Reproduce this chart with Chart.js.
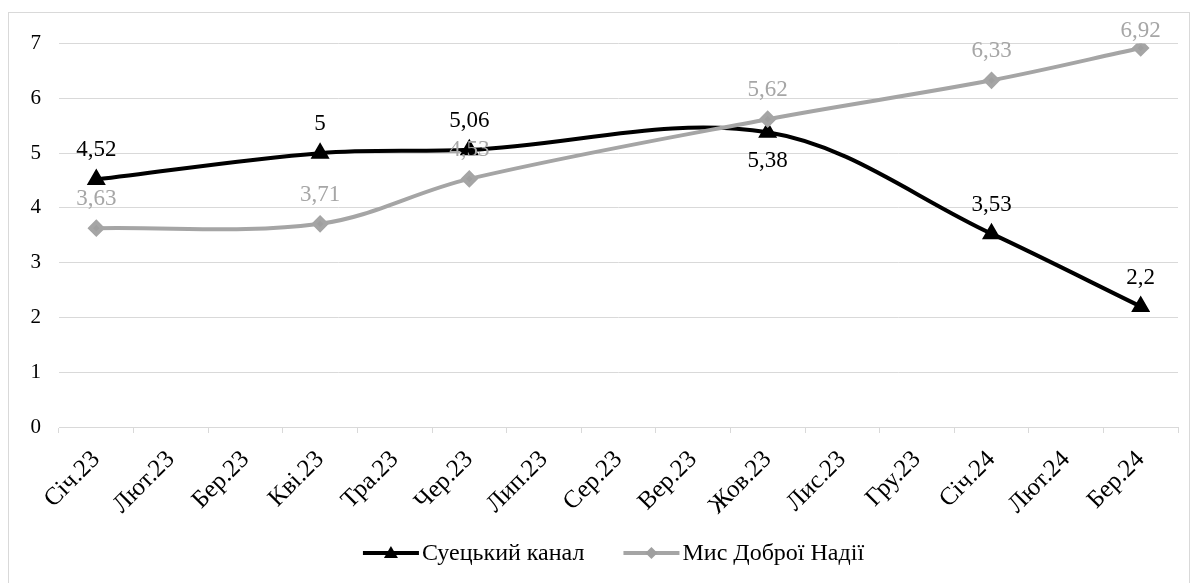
<!DOCTYPE html>
<html>
<head>
<meta charset="utf-8">
<script src="https://cdn.jsdelivr.net/npm/chart.js@4.4.1/dist/chart.umd.min.js"></script>
<style>
  body { margin: 0; background: #fff; }
  #box { position: absolute; left: 8px; top: 12px; width: 1182px; height: 575px;
         border: 1px solid #d9d9d9; box-sizing: border-box; }
</style>
</head>
<body>
<div id="box"><canvas id="chart" width="1180" height="573"></canvas></div>
<script>
// Дані графіка
const months = ['Січ.23', 'Лют.23', 'Бер.23', 'Кві.23', 'Тра.23', 'Чер.23', 'Лип.23', 'Сер.23',
  'Вер.23', 'Жов.23', 'Лис.23', 'Гру.23', 'Січ.24', 'Лют.24', 'Бер.24'];
const suez = [4.52, null, null, 5, null, 5.06, null, null, null, 5.38, null, null, 3.53, null, 2.2];
const cape = [3.63, null, null, 3.71, null, 4.53, null, null, null, 5.62, null, null, 6.33, null, 6.92];
const yTicks = [0, 1, 2, 3, 4, 5, 6, 7];

const FONT = '"Liberation Serif", "Times New Roman", serif';
const GREY = '#a5a5a5';

// Маркер: трикутник або ромб
function marker(ctx, style, x, y) {
  ctx.beginPath();
  if (style === 'triangle') {
    ctx.moveTo(x, y - 7); ctx.lineTo(x + 7, y + 5); ctx.lineTo(x - 7, y + 5);
  } else {
    ctx.moveTo(x, y - 6); ctx.lineTo(x + 6, y); ctx.lineTo(x, y + 6); ctx.lineTo(x - 6, y);
  }
  ctx.closePath(); ctx.fill();
}

// Підписи значень біля точок + легенда внизу
const valueLabels = {
  id: 'valueLabels',
  afterDatasetsDraw(chart, args, opts) {
    const ctx = chart.ctx;
    const top = chart.chartArea.top;
    ctx.save();
    ctx.font = '23px ' + FONT;
    ctx.textAlign = 'center';
    ctx.textBaseline = 'middle';
    chart.data.datasets.forEach((ds, i) => {
      const meta = chart.getDatasetMeta(i);
      meta.data.forEach((pt, j) => {
        const v = ds.data[j];
        if (v == null) return;
        const below = (opts.below[i] || []).includes(j);
        let y = pt.y + (below ? 29 : -29);
        if (y < top - 13) y = top - 13;
        ctx.fillStyle = ds.labelColor;
        ctx.fillText(String(v).replace('.', ','), pt.x, y);
      });
    });
    ctx.restore();
  },
  afterDraw(chart, args, opts) {
    const ctx = chart.ctx;
    const area = chart.chartArea;
    ctx.save();
    ctx.font = '24px ' + FONT;
    ctx.textBaseline = 'middle';
    const items = chart.data.datasets.map(ds => ({ ds, w: ctx.measureText(ds.label).width }));
    const lineW = 56, gap = 3, itemGap = 39;
    const total = items.reduce((s, it) => s + lineW + gap + it.w, 0) + itemGap * (items.length - 1);
    let x = (area.left + area.right) / 2 - 5 - total / 2;
    const y = opts.legendY;
    items.forEach(({ ds, w }) => {
      ctx.strokeStyle = ds.borderColor;
      ctx.fillStyle = ds.backgroundColor;
      ctx.lineWidth = 4;
      ctx.beginPath(); ctx.moveTo(x, y); ctx.lineTo(x + lineW, y); ctx.stroke();
      marker(ctx, ds.pointStyle, x + lineW / 2, y);
      ctx.fillStyle = '#000';
      ctx.fillText(ds.label, x + lineW + gap, y + 1);
      x += lineW + gap + w + itemGap;
    });
    ctx.restore();
  }
};

new Chart(document.getElementById('chart'), {
  type: 'line',
  data: {
    labels: months,
    datasets: [{
      label: 'Суецький канал',
      data: suez,
      borderColor: '#000',
      backgroundColor: '#000',
      labelColor: '#000',
      borderWidth: 4,
      pointStyle: 'triangle',
      pointRadius: 7,
      pointHoverRadius: 7,
      tension: 0.35,
      spanGaps: true,
      order: 1
    }, {
      label: 'Мис Доброї Надії',
      data: cape,
      borderColor: GREY,
      backgroundColor: '#9f9f9f',
      labelColor: '#a6a6a6',
      borderWidth: 4,
      pointStyle: 'rectRot',
      pointRadius: 6,
      pointHoverRadius: 6,
      tension: 0.35,
      spanGaps: true,
      order: 0
    }]
  },
  options: {
    responsive: false,
    animation: false,
    layout: { padding: { left: 0, right: 11, top: 24, bottom: 0 } },
    plugins: {
      tooltip: { enabled: false },
      legend: { display: false },
      valueLabels: { below: { 0: [9] }, legendY: 540 }
    },
    scales: {
      x: {
        offset: true,
        grid: { display: true, drawOnChartArea: false, offset: true, tickLength: 6, color: '#d9d9d9' },
        border: { color: '#d9d9d9' },
        ticks: {
          autoSkip: false, minRotation: 45, maxRotation: 45, padding: 12,
          color: '#000', font: { family: FONT, size: 25 }
        },
        afterFit(scale) { scale.height = 159; }
      },
      y: {
        min: 0, max: 7,
        afterBuildTicks(scale) { scale.ticks = yTicks.map(v => ({ value: v })); },
        grid: { color: '#d9d9d9', drawTicks: false },
        border: { display: false },
        ticks: { padding: 18, color: '#000', font: { family: FONT, size: 21 } },
        afterFit(scale) { scale.width = 50; }
      }
    }
  },
  plugins: [valueLabels]
});
</script>
</body>
</html>
